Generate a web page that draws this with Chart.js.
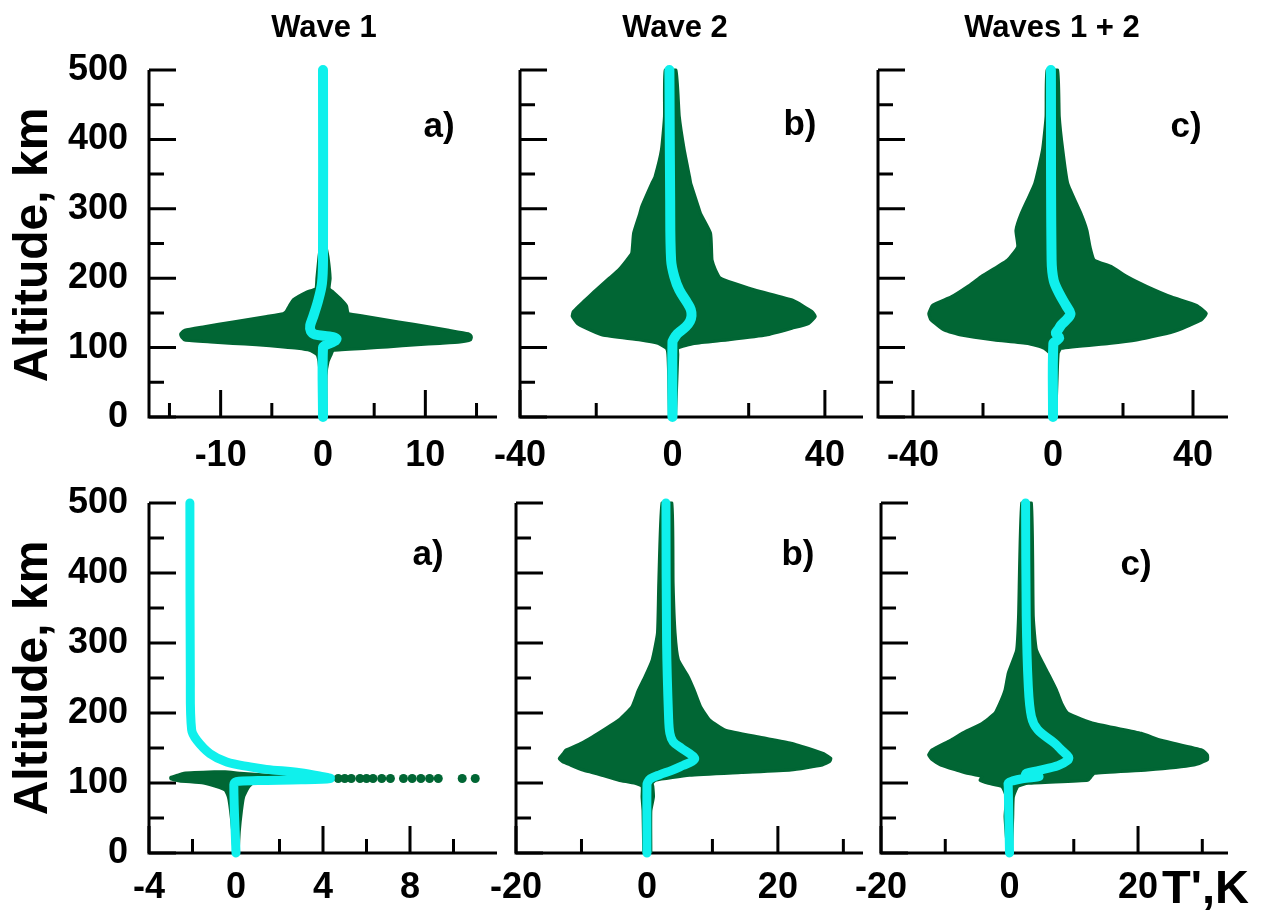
<!DOCTYPE html>
<html>
<head>
<meta charset="utf-8">
<script src="https://cdn.jsdelivr.net/npm/chart.js@4.4.1/dist/chart.umd.min.js"></script>
<style>
  body { margin: 0; width: 1270px; height: 910px; background: #fff; position: relative; overflow: hidden;
         font-family: "Liberation Sans", Arial, sans-serif; font-weight: bold; }
  .p { position: absolute; }
  .t { position: absolute; line-height: 1; white-space: nowrap; color: #000; z-index: 5; }
</style>
</head>
<body>

<div class="t" style="left:324px;top:11px;font-size:31px;transform:translateX(-50%)">Wave 1</div>
<div class="t" style="left:675px;top:11px;font-size:31px;transform:translateX(-50%)">Wave 2</div>
<div class="t" style="left:1052px;top:11px;font-size:31px;transform:translateX(-50%)">Waves 1 + 2</div>

<div class="t" style="left:31px;top:245px;font-size:48px;transform:translate(-50%,-50%) rotate(-90deg)">Altitude, km</div>
<div class="t" style="left:31px;top:678px;font-size:48px;transform:translate(-50%,-50%) rotate(-90deg)">Altitude, km</div>

<div class="t" style="left:439px;top:107px;font-size:35px;transform:translateX(-50%)">a)</div>
<div class="t" style="left:800px;top:105px;font-size:35px;transform:translateX(-50%)">b)</div>
<div class="t" style="left:1186px;top:107px;font-size:35px;transform:translateX(-50%)">c)</div>
<div class="t" style="left:428px;top:535px;font-size:35px;transform:translateX(-50%)">a)</div>
<div class="t" style="left:798px;top:535px;font-size:35px;transform:translateX(-50%)">b)</div>
<div class="t" style="left:1136px;top:545px;font-size:35px;transform:translateX(-50%)">c)</div>

<div class="t" style="left:1162px;top:863px;font-size:47px">T',K</div>

<script>
// altitude axis (km)
const altLabels = [0, 100, 200, 300, 400, 500];
const altMinor = [50, 150, 250, 350, 450];

// ---- Wave 1, upper row
const alt1 = [0, 60, 80, 90, 96, 99, 101, 104, 106, 108, 111, 115, 118, 120, 125, 130, 137, 145, 149, 152, 160, 169, 180, 185, 200, 230, 255, 500];
const lo1 = [-0.3, -0.3, -0.4, -0.6, -1.3, -2.5, -3.9, -6.5, -8.8, -11, -13.5, -13.8, -13.9, -13.9, -13.5, -11.6, -8.8, -5.5, -3.9, -3.6, -3.3, -2.9, -1.6, -0.7, -0.6, -0.4, -0.2, -0.2];
const hi1 = [0.3, 0.3, 0.5, 0.8, 1.0, 4.3, 6.3, 9.2, 11.4, 13.4, 14.4, 14.5, 14.4, 14.2, 12.3, 10.3, 7.4, 4.2, 2.5, 2.4, 2.3, 1.8, 1.0, 0.6, 0.7, 0.5, 0.2, 0.2];
const meanAlt1 = [0, 100, 104, 109, 113, 116, 119, 124, 132, 145, 169, 193, 226, 500];
const mean1 = [0, 0, 0.3, 1.1, 1.3, 0.6, -0.8, -1.2, -1.25, -0.95, -0.45, -0.1, 0, 0];

// ---- Wave 2, upper row
const alt2 = [0, 60, 90, 99, 106, 111, 118, 128, 135, 145, 152, 168, 183, 200, 212, 226, 236, 265, 293, 303, 337, 346, 385, 433, 500];
const lo2 = [-0.8, -1.0, -1.2, -1.6, -3.8, -8.4, -18.4, -22.7, -25, -26.3, -26, -23, -20.1, -16.6, -14.1, -12, -10.7, -10.2, -8.6, -8.1, -5.4, -4.6, -2.9, -2.1, -1.9];
const hi2 = [0.8, 1.2, 1.4, 1.4, 5.7, 14.3, 24.6, 31.5, 35.8, 37.5, 36.6, 31.7, 21.6, 12.6, 11.3, 10.4, 10.3, 10, 7.4, 6.8, 4.8, 4.5, 3.1, 1.8, 0.9];
const meanAlt2 = [0, 108, 112, 120, 130, 138, 146, 155, 164, 183, 202, 226, 313, 500];
const mean2 = [0, 0, 0.3, 1.3, 3.5, 4.6, 5.0, 4.8, 3.95, 1.8, 0.5, -0.35, -0.6, -0.8];

// ---- Waves 1 + 2, upper row
const alt3 = [0, 60, 92, 99, 106, 111, 118, 125, 140, 149, 161, 173, 188, 202, 217, 226, 245, 269, 293, 337, 385, 433, 500];
const lo3 = [-0.8, -1.0, -1.0, -2.5, -7.2, -16.8, -26.3, -31, -34.9, -35.5, -34.4, -29.1, -24.4, -20.6, -15.8, -13, -10.1, -10.6, -9.1, -5.2, -3, -2, -1.7];
const hi3 = [0.8, 1.2, 1.5, 2.3, 16, 23.9, 30.5, 35.6, 42.4, 43.8, 41, 33.9, 26.9, 21.3, 16.6, 11.8, 10.6, 9.7, 8, 4.2, 2.8, 1.8, 1.3];
const meanAlt3 = [0, 106, 110, 114, 118, 121, 126, 133, 142, 149, 161, 178, 197, 226, 500];
const mean3 = [0, 0.1, 1.0, 1.8, 1.2, 0.8, 1.5, 2.4, 4.2, 5.0, 3.7, 1.8, 0.2, -0.4, -0.6];

// ---- Wave 1, lower row
const alt4 = [0, 30, 60, 80, 90, 95, 100, 103, 106, 108, 111, 114, 116];
const lo4 = [-0.1, -0.15, -0.25, -0.35, -0.5, -0.9, -1.5, -2.6, -3.0, -3.0, -2.7, -2.4, -1.0];
const hi4 = [0.1, 0.15, 0.25, 0.35, 0.5, 0.6, 0.8, 2.5, 4.0, 3.0, 1.5, 0.2, -0.5];
const dots4 = [4.7, 5.0, 5.3, 5.7, 6.0, 6.3, 6.7, 7.1, 7.7, 8.1, 8.5, 8.9, 9.3, 10.4, 11.0];
const dotAlt4 = 106.5;
const meanAlt4 = [0, 98, 102, 103.5, 104.5, 106.5, 109, 114.7, 119.5, 123, 130, 142, 161, 176, 250, 500];
const mean4 = [0, -0.1, 0, 1.0, 3.0, 4.33, 4.0, 2.95, 1.4, 0.65, -0.43, -1.2, -1.8, -2.04, -2.1, -2.12];

// ---- Wave 2, lower row
const alt5 = [0, 60, 80, 95, 99.5, 104, 111, 115, 118.6, 125.7, 130.5, 135, 142, 147, 157, 166, 176, 190, 209, 233, 252, 276, 314, 385, 500];
const lo5 = [-0.5, -0.6, -0.75, -0.75, -1.8, -4.3, -6.9, -8.4, -9.8, -11.7, -12.9, -13.4, -12.8, -12.4, -10, -8.3, -6.6, -4.3, -2.3, -1.3, -0.3, 0.8, 1.6, 1.8, 2.3];
const hi5 = [0.6, 0.6, 1.0, 0.9, 0.8, 1.3, 6.5, 14.4, 22, 26.8, 27.9, 28.1, 27, 25.5, 22, 16.9, 11.9, 9.6, 8.2, 7.2, 6.3, 4.8, 4.3, 4.0, 3.8];
const meanAlt5 = [0, 97, 101, 106, 112, 118, 125, 131, 135, 140, 149.5, 159, 171, 195, 300, 500];
const mean5 = [0, 0, 0.1, 0.5, 2.0, 3.8, 5.5, 6.9, 7.3, 6.8, 5.3, 4.0, 3.5, 3.3, 3.0, 2.9];

// ---- Waves 1 + 2, lower row
const alt6 = [0, 52, 80, 95, 99.5, 104, 109, 114, 118.6, 125.7, 133, 140, 147, 161, 171, 185, 199.5, 214, 233, 257, 290, 338, 500];
const lo6 = [-0.3, -0.7, -0.5, -1.2, -3.3, -4.6, -4.3, -6.6, -8.3, -10.7, -12.0, -12.6, -12.1, -9.2, -7.4, -4.3, -2.3, -1.5, -0.7, -0.2, 1.1, 1.4, 1.9];
const hi6 = [0.3, 0.5, 0.6, 1.3, 2.9, 12.2, 12.7, 13.2, 21.5, 28.7, 30.8, 30.8, 30.0, 23.6, 20.5, 13.2, 9.1, 8.1, 7.3, 6.0, 4.2, 3.7, 3.4];
const meanAlt6 = [0, 95, 100, 103, 106, 109, 111, 114, 118, 125, 132, 137, 146, 157, 176, 195, 242, 338, 500];
const mean6 = [0, -0.2, -0.2, 0.5, 2.0, 4.6, 2.5, 2.6, 4.6, 7.6, 9.0, 9.2, 8.2, 7.0, 4.4, 3.4, 2.9, 2.6, 2.5];

// T' axes
const xLabels1 = [-10, 0, 10], xMinor1 = [-15, -5, 5, 15];
const xLabels2 = [-40, 0, 40], xMinor2 = [-20, 20];
const xLabels3 = [-40, 0, 40], xMinor3 = [-20, 20];
const xLabels4 = [-4, 0, 4, 8], xMinor4 = [-2, 2, 6, 10];
const xLabels5 = [-20, 0, 20], xMinor5 = [-10, 10, 30];
const xLabels6 = [-20, 0, 20], xMinor6 = [-10, 10, 30];

const GREEN = '#016634';
const CYAN = '#0ff0ec';
const FONT = '"Liberation Sans", Arial, sans-serif';

const panels = [
  {left: 50,  top: 30,  w: 462, h: 447, yw: 99, xh: 60, xpad: 21, showY: true,  xmin: -17, xmax: 17, alt: alt1, lo: lo1, hi: hi1, mAlt: meanAlt1, m: mean1, labels: xLabels1, minor: xMinor1, lw: 10},
  {left: 473, top: 30,  w: 405, h: 447, yw: 40, xh: 60, xpad: 21, showY: false, xmin: -40, xmax: 50, alt: alt2, lo: lo2, hi: hi2, mAlt: meanAlt2, m: mean2, labels: xLabels2, minor: xMinor2, lw: 10},
  {left: 838, top: 30,  w: 405, h: 447, yw: 40, xh: 60, xpad: 21, showY: false, xmin: -50, xmax: 50, alt: alt3, lo: lo3, hi: hi3, mAlt: meanAlt3, m: mean3, labels: xLabels3, minor: xMinor3, lw: 10},
  {left: 50,  top: 463, w: 462, h: 447, yw: 99, xh: 57, xpad: 17, showY: true,  xmin: -4,  xmax: 12, alt: alt4, lo: lo4, hi: hi4, mAlt: meanAlt4, m: mean4, labels: xLabels4, minor: xMinor4, lw: 9, dots: dots4, dotAlt: dotAlt4},
  {left: 473, top: 463, w: 405, h: 447, yw: 40, xh: 57, xpad: 17, showY: false, xmin: -20, xmax: 33, alt: alt5, lo: lo5, hi: hi5, mAlt: meanAlt5, m: mean5, labels: xLabels5, minor: xMinor5, lw: 9},
  {left: 838, top: 463, w: 405, h: 447, yw: 40, xh: 57, xpad: 17, showY: false, xmin: -20, xmax: 34, alt: alt6, lo: lo6, hi: hi6, mAlt: meanAlt6, m: mean6, labels: xLabels6, minor: xMinor6, lw: 9}
];

// axis lines and inward ticks, drawn under the data
const framePlugin = {
  id: 'frame',
  beforeDatasetsDraw(chart, args, o) {
    const {ctx, chartArea: a} = chart;
    const x = chart.scales.x, y = chart.scales.y;
    ctx.save();
    ctx.strokeStyle = '#000';
    ctx.lineWidth = 3;
    ctx.beginPath();
    ctx.moveTo(a.left, y.getPixelForValue(500));
    ctx.lineTo(a.left, a.bottom);
    ctx.lineTo(a.right, a.bottom);
    ctx.stroke();
    ctx.beginPath();
    altLabels.forEach(v => { const py = y.getPixelForValue(v); ctx.moveTo(a.left, py); ctx.lineTo(a.left + 27, py); });
    altMinor.forEach(v => { const py = y.getPixelForValue(v); ctx.moveTo(a.left, py); ctx.lineTo(a.left + 15, py); });
    o.major.forEach(v => { const px = x.getPixelForValue(v); ctx.moveTo(px, a.bottom); ctx.lineTo(px, a.bottom - 27); });
    o.minor.forEach(v => { const px = x.getPixelForValue(v); ctx.moveTo(px, a.bottom); ctx.lineTo(px, a.bottom - 14); });
    ctx.stroke();
    ctx.restore();
  }
};

function makePanel(p) {
  const wrap = document.createElement('div');
  wrap.className = 'p';
  wrap.style.left = p.left + 'px';
  wrap.style.top = p.top + 'px';
  wrap.style.width = p.w + 'px';
  wrap.style.height = p.h + 'px';
  const cv = document.createElement('canvas');
  cv.width = p.w;
  cv.height = p.h;
  cv.style.width = p.w + 'px';
  cv.style.height = p.h + 'px';
  wrap.appendChild(cv);
  document.body.appendChild(wrap);

  // envelope: left edge going up, right edge coming back down
  const shape = p.alt.map((a, i) => ({x: p.lo[i], y: a}))
    .concat(p.alt.map((a, i) => ({x: p.hi[i], y: a})).reverse());
  const mean = p.mAlt.map((a, i) => ({x: p.m[i], y: a}));

  const datasets = [
    {data: mean, borderColor: CYAN, borderWidth: p.lw, pointRadius: 0, borderCapStyle: 'round',
     borderJoinStyle: 'round', fill: false, clip: false, tension: 0.35},
    {data: shape, borderColor: GREEN, backgroundColor: GREEN, borderWidth: 3, pointRadius: 0,
     borderJoinStyle: 'round', fill: 'shape', clip: false, tension: 0.15}
  ];
  if (p.dots) {
    datasets.push({data: p.dots.map(v => ({x: v, y: p.dotAlt})), showLine: false, pointRadius: 4.5,
      pointBackgroundColor: GREEN, pointBorderWidth: 0, clip: false});
  }

  const tickFont = {family: FONT, size: 36, weight: 'bold', lineHeight: 1};

  new Chart(cv, {
    type: 'line',
    data: {datasets},
    plugins: [framePlugin],
    options: {
      responsive: false,
      animation: false,
      devicePixelRatio: 1,
      events: [],
      layout: {padding: {top: 40, right: 15, left: 0, bottom: 0}},
      plugins: {
        legend: {display: false},
        tooltip: {enabled: false},
        frame: {major: p.labels, minor: p.minor}
      },
      scales: {
        x: {
          type: 'linear', min: p.xmin, max: p.xmax,
          grid: {display: false, drawTicks: false},
          border: {display: false},
          afterBuildTicks: s => { s.ticks = p.labels.map(v => ({value: v})); },
          afterFit: s => { s.height = p.xh; },
          ticks: {font: tickFont, color: '#000', padding: p.xpad, maxRotation: 0, autoSkip: false,
                  callback: v => String(v)}
        },
        y: {
          type: 'linear', min: 0, max: 500,
          grid: {display: false, drawTicks: false},
          border: {display: false},
          afterBuildTicks: s => { s.ticks = altLabels.map(v => ({value: v})); },
          afterFit: s => { s.width = p.yw; },
          ticks: {display: p.showY, font: tickFont, color: '#000', padding: 21,
                  callback: v => String(v)}
        }
      }
    }
  });
}

panels.forEach(makePanel);
</script>
</body>
</html>
